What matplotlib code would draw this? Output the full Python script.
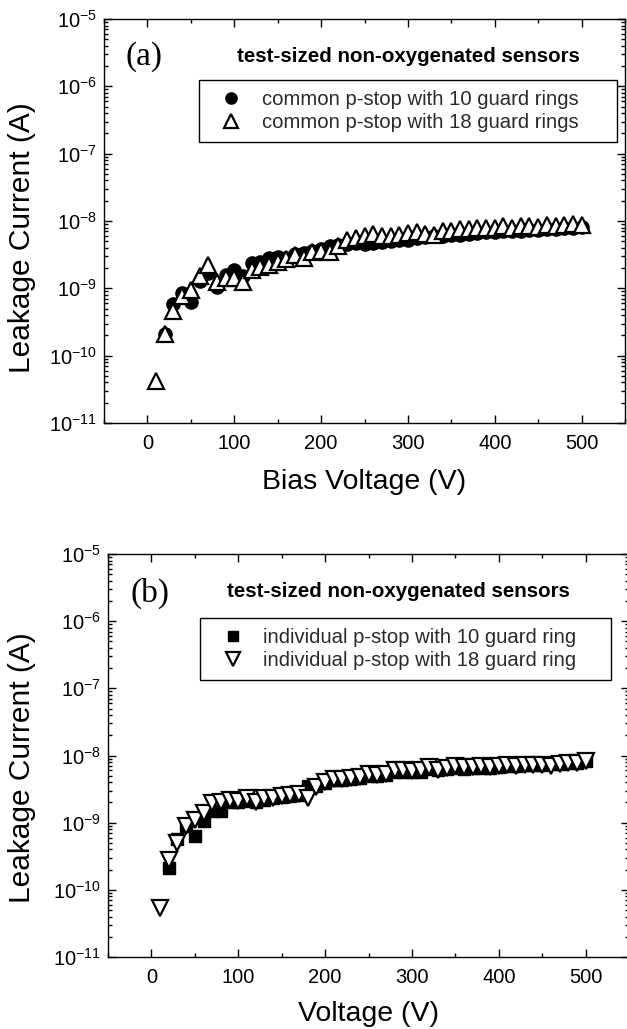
import matplotlib
matplotlib.use("Agg")
import matplotlib.pyplot as plt
from matplotlib.ticker import (LogLocator, MultipleLocator, LogFormatterMathtext,
                               NullFormatter, FixedLocator)

plt.rcParams['font.family'] = ['Liberation Sans', 'DejaVu Sans']
plt.rcParams['mathtext.fontset'] = 'custom'
plt.rcParams['mathtext.rm'] = 'Liberation Sans'
plt.rcParams['mathtext.it'] = 'Liberation Sans:italic'
plt.rcParams['mathtext.bf'] = 'Liberation Sans:bold'
plt.rcParams['axes.unicode_minus'] = False

# ---------------- data ----------------
volt_a_18 = [10, 20, 30, 40, 50, 60, 70, 80, 90, 100, 110, 120, 130, 140, 150, 160, 170, 180, 190, 200,
             210, 220, 230, 240, 250, 260, 270, 280, 290, 300, 310, 320, 330, 340, 350, 360, 370, 380, 390, 400,
             410, 420, 430, 440, 450, 460, 470, 480, 490, 500]
curr_a_18 = [4.2e-11, 2.1e-10, 4.6e-10, 7.6e-10, 9.5e-10, 1.5e-9, 2.2e-9, 1.25e-9, 1.4e-9, 1.4e-9,
             1.25e-9, 1.9e-9, 2.05e-9, 2.2e-9, 2.45e-9, 2.7e-9, 3.1e-9, 2.8e-9, 3.5e-9, 3.6e-9,
             3.5e-9, 4.2e-9, 5.3e-9, 5.6e-9, 5.9e-9, 6.5e-9, 5.9e-9, 5.9e-9, 6.3e-9, 6.7e-9,
             6.9e-9, 6.5e-9, 6.3e-9, 7.2e-9, 7.2e-9, 7.5e-9, 7.5e-9, 7.8e-9, 8.0e-9, 8.0e-9,
             8.4e-9, 7.8e-9, 8.3e-9, 8.3e-9, 8.2e-9, 8.6e-9, 8.3e-9, 8.8e-9, 9.0e-9, 8.8e-9]

volt_a_10 = [20, 30, 40, 50, 60, 70, 80, 90, 100, 110, 120, 130, 140, 150, 160, 170, 180, 190, 200,
             210, 220, 230, 240, 250, 260, 270, 280, 290, 300, 310, 320, 330, 340, 350, 360, 370, 380, 390, 400,
             410, 420, 430, 440, 450, 460, 470, 480, 490, 500]
curr_a_10 = [2.1e-10, 5.8e-10, 8.5e-10, 6.2e-10, 1.3e-9, 1.7e-9, 1.05e-9, 1.6e-9, 1.85e-9,
             1.5e-9, 2.35e-9, 2.5e-9, 2.8e-9, 2.9e-9, 2.8e-9, 3.2e-9, 3.3e-9, 3.6e-9, 3.9e-9,
             4.3e-9, 4.4e-9, 4.6e-9, 4.7e-9, 4.6e-9, 4.7e-9, 4.9e-9, 5.1e-9, 5.3e-9, 5.2e-9,
             5.6e-9, 5.8e-9, 5.9e-9, 6.0e-9, 6.2e-9, 6.3e-9, 6.4e-9, 6.6e-9, 6.8e-9, 6.8e-9,
             7.0e-9, 7.1e-9, 7.2e-9, 7.3e-9, 7.3e-9, 7.5e-9, 7.6e-9, 7.8e-9, 7.9e-9, 8.1e-9]

volt_b_18 = volt_a_18
curr_b_18 = [5.3e-11, 2.8e-10, 5.0e-10, 8.8e-10, 1.1e-9, 1.4e-9, 1.95e-9, 2.05e-9, 2.15e-9, 2.1e-9,
             2.3e-9, 2.05e-9, 2.3e-9, 2.35e-9, 2.5e-9, 2.55e-9, 2.65e-9, 2.3e-9, 3.4e-9, 4.0e-9,
             4.5e-9, 4.5e-9, 4.7e-9, 4.8e-9, 5.35e-9, 5.05e-9, 5.35e-9, 6.0e-9, 6.1e-9, 5.9e-9,
             6.1e-9, 6.7e-9, 6.1e-9, 6.5e-9, 6.9e-9, 6.7e-9, 6.7e-9, 6.9e-9, 6.7e-9, 7.0e-9,
             7.1e-9, 7.0e-9, 7.1e-9, 7.3e-9, 7.1e-9, 7.0e-9, 7.5e-9, 7.8e-9, 7.8e-9, 8.4e-9]

volt_b_10 = volt_a_10
curr_b_10 = [2.1e-10, 5.8e-10, 8.8e-10, 6.3e-10, 1.05e-9, 1.5e-9, 1.5e-9, 2.0e-9, 2.0e-9,
             2.1e-9, 2.0e-9, 2.2e-9, 2.3e-9, 2.4e-9, 2.5e-9, 2.6e-9, 3.5e-9, 3.5e-9, 3.9e-9,
             4.3e-9, 4.3e-9, 4.5e-9, 4.6e-9, 5.0e-9, 5.0e-9, 5.1e-9, 5.6e-9, 5.6e-9, 5.6e-9,
             5.7e-9, 6.2e-9, 6.0e-9, 6.2e-9, 6.5e-9, 6.4e-9, 6.5e-9, 6.6e-9, 6.6e-9, 6.8e-9,
             7.0e-9, 7.0e-9, 7.1e-9, 7.3e-9, 7.3e-9, 7.4e-9, 7.6e-9, 7.7e-9, 7.8e-9, 8.3e-9]

x_ticks = [0, 100, 200, 300, 400, 500]
y_ticks = [1e-11, 1e-10, 1e-9, 1e-8, 1e-7, 1e-6, 1e-5]
subtitle = "test-sized non-oxygenated sensors"
labels_a = ["common p-stop with 10 guard rings", "common p-stop with 18 guard rings"]
labels_b = ["individual p-stop with 10 guard ring", "individual p-stop with 18 guard ring"]

# ---------------- figure ----------------
W, H = 627, 1029
fig = plt.figure(figsize=(W / 100, H / 100), dpi=100)

def px_axes(l, r, t, b):
    return fig.add_axes([l / W, 1 - b / H, (r - l) / W, (b - t) / H])

ax_a = px_axes(104, 625, 19, 423)
ax_b = px_axes(108, 629, 554, 957)

def style(ax):
    ax.set_yscale('log')
    ax.set_xlim(-50, 550)
    ax.set_ylim(y_ticks[0], y_ticks[-1])
    ax.set_xticks(x_ticks)
    ax.xaxis.set_minor_locator(MultipleLocator(50))
    ax.yaxis.set_major_locator(FixedLocator(y_ticks))
    ax.yaxis.set_minor_locator(LogLocator(base=10, subs=range(2, 10), numticks=20))
    ax.yaxis.set_major_formatter(LogFormatterMathtext())
    ax.yaxis.set_minor_formatter(NullFormatter())
    ax.tick_params(which='both', direction='in', top=True, right=True, width=1.0)
    ax.tick_params(which='major', length=6)
    ax.tick_params(which='minor', length=3)
    ax.tick_params(axis='x', labelsize=14.5, pad=8)
    ax.tick_params(axis='y', labelsize=14.5, pad=5)
    for s in ax.spines.values():
        s.set_linewidth(1.0)

style(ax_a)
style(ax_b)

# panel a
ax_a.plot(volt_a_10, curr_a_10, linestyle='none', marker='o', markersize=9.5,
          markerfacecolor='black', markeredgecolor='black', label=labels_a[0])
ax_a.plot(volt_a_18, curr_a_18, linestyle='none', marker='^', markersize=11.5,
          markerfacecolor='white', markeredgecolor='black', markeredgewidth=1.6, label=labels_a[1])

# panel b
ax_b.plot(volt_b_10, curr_b_10, linestyle='none', marker='s', markersize=9,
          markerfacecolor='black', markeredgecolor='black', label=labels_b[0])
ax_b.plot(volt_b_18, curr_b_18, linestyle='none', marker='v', markersize=11.5,
          markerfacecolor='white', markeredgecolor='black', markeredgewidth=1.6, label=labels_b[1])

for ax, xl, lblx, lbly, xly in [(ax_a, 'Bias Voltage (V)', -0.157, 0.46, -0.163),
                                (ax_b, 'Voltage (V)', -0.165, 0.471, -0.158)]:
    ax.set_ylabel('Leakage Current (A)', fontsize=21.5)
    ax.yaxis.label.set_va('center')
    ax.yaxis.set_label_coords(lblx, lbly)
    ax.set_xlabel(xl, fontsize=20.5, va='baseline')
    ax.xaxis.set_label_coords(0.5, xly)

ax_a.text(0.076, 0.908, '(a)', transform=ax_a.transAxes, fontsize=24,
          family='Liberation Serif', ha='center', va='center')
ax_b.text(0.080, 0.903, '(b)', transform=ax_b.transAxes, fontsize=24,
          family='Liberation Serif', ha='center', va='center')
ax_a.text(0.585, 0.908, subtitle, transform=ax_a.transAxes, fontsize=14.8,
          ha='center', va='center', fontweight='bold')
ax_b.text(0.557, 0.908, subtitle, transform=ax_b.transAxes, fontsize=14.8,
          ha='center', va='center', fontweight='bold')

for ax, x0, top, w in [(ax_a, 0.182, 0.849, 0.802), (ax_b, 0.177, 0.841, 0.789)]:
    leg = ax.legend(loc='upper left', bbox_to_anchor=(x0, top - 0.2, w, 0.2), mode='expand',
                    fancybox=False, frameon=True, edgecolor='black', framealpha=1,
                    fontsize=14.6, markerscale=0.85, handlelength=2.2, handletextpad=0.4,
                    borderaxespad=0, borderpad=0.5, labelspacing=0.2)
    leg.get_frame().set_linewidth(1.0)
    for t in leg.get_texts():
        t.set_color('#2a2a2a')

fig.savefig('out.png', dpi=100)
